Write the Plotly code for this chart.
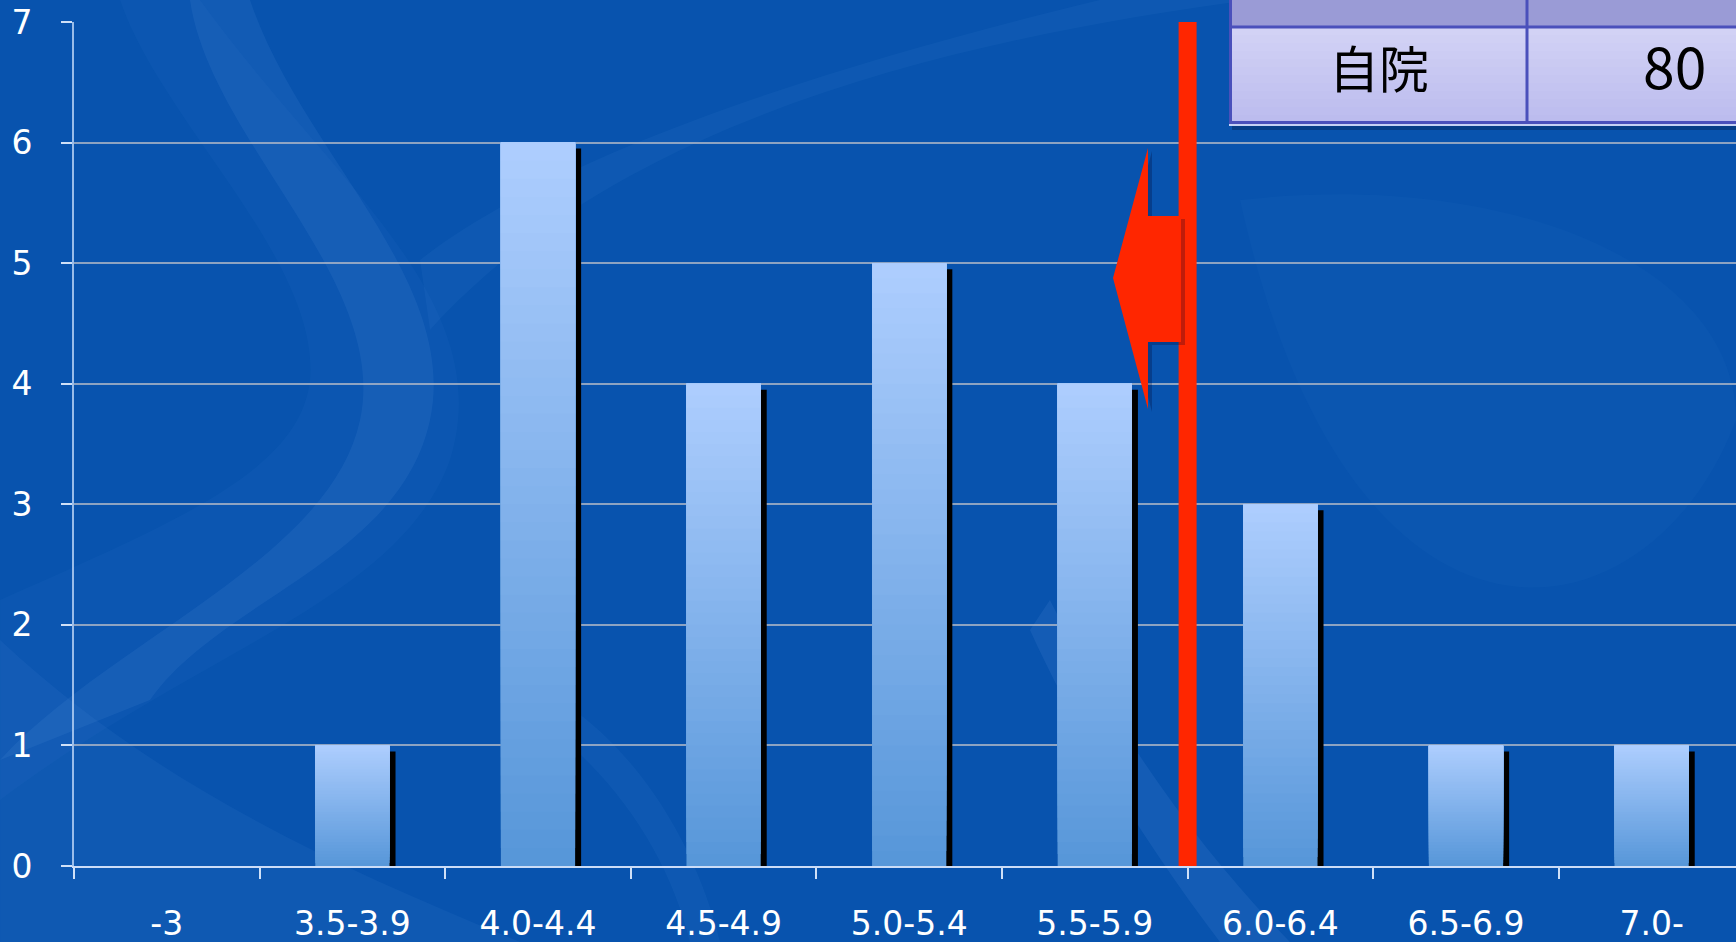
import plotly.graph_objects as go
import numpy as np

# ---------------- data ----------------
categories = ["-3", "3.5-3.9", "4.0-4.4", "4.5-4.9", "5.0-5.4", "5.5-5.9", "6.0-6.4", "6.5-6.9", "7.0-"]
counts = [0, 1, 6, 4, 5, 4, 3, 1, 1]
y_ticks = [0, 1, 2, 3, 4, 5, 6, 7]
marker_x = 5.5          # red threshold line (boundary between 5.5-5.9 and 6.0-6.4)
table_label = "自院"
table_value = "80"

# ---------------- layout geometry ----------------
W, H = 1736, 942
ML, MR, MT, MB = 74, 0, 22, 76
PW, PH = W - ML - MR, H - MT - MB
YMAX = 7
CAT_PX = 185.6
XMAX = -0.5 + PW / CAT_PX

def px(x):  # pixel -> paper x
    return (x - ML) / PW

def py(y):  # pixel -> paper y
    return (H - MB - y) / PH

vals = np.array(counts, dtype=float)
fig = go.Figure()

# shadow bars (black, offset right/down)
shadow_dx = 6 / CAT_PX
shadow_dy = 6 / (PH / YMAX)
fig.add_trace(go.Bar(
    x=categories, y=np.where(vals > 0, vals - shadow_dy, 0), width=0.4,
    offset=-0.2 + shadow_dx, marker=dict(color="black", line=dict(width=0)),
    hoverinfo="skip", showlegend=False))

# gradient bars built from stacked layers
N = 40
top = np.array([0xAE, 0xCE, 0xFE])
bot = np.array([0x56, 0x96, 0xD9])
for k in range(N):
    t = (k + 0.5) / N
    c = bot + (top - bot) * t
    col = "rgb(%d,%d,%d)" % tuple(c.round().astype(int))
    fig.add_trace(go.Bar(
        x=categories, y=vals * (N - k) / N, base=vals * k / N, width=0.4, offset=-0.2,
        marker=dict(color=col, line=dict(width=0)),
        hoverinfo="skip", showlegend=False))

shapes = []

def build_path(cmds):
    out = []
    for cmd in cmds:
        op, pts = cmd[0], cmd[1:]
        out.append(op + " " + " ".join("%.4f,%.4f" % (px(a), py(b)) for a, b in pts))
    return " ".join(out) + " Z"

swirls = [
    # left vertical swirl band
    ([("M", (250, 0)), ("C", (300, 150), (460, 280), (430, 420)), ("C", (400, 560), (220, 600), (150, 700)),
      ("L", (0, 760)), ("C", (110, 640), (330, 560), (360, 420)), ("C", (390, 280), (210, 140), (190, 0))], 0.08),
    # wide soft glow around the swirl
    ([("M", (200, 0)), ("C", (330, 180), (500, 300), (450, 460)), ("C", (400, 600), (200, 650), (0, 800)),
      ("L", (0, 600)), ("C", (180, 520), (300, 470), (310, 380)), ("C", (320, 260), (160, 120), (120, 0))], 0.04),
    # big arc across top center
    ([("M", (430, 330)), ("C", (620, 120), (950, 40), (1250, 0)), ("L", (1100, 0)),
      ("C", (850, 60), (560, 150), (420, 260))], 0.05),
    # right lighter area
    ([("M", (1240, 200)), ("C", (1500, 170), (1736, 260), (1736, 420)), ("C", (1650, 650), (1350, 700), (1240, 200))], 0.03),
    # lower diagonal band
    ([("M", (1050, 600)), ("C", (1120, 740), (1200, 850), (1290, 942)), ("L", (1220, 942)),
      ("C", (1150, 850), (1080, 740), (1030, 630))], 0.09),
    # bottom left region
    ([("M", (0, 640)), ("C", (150, 780), (320, 860), (520, 942)), ("L", (0, 942))], 0.06),
    # faint arc in center bottom
    ([("M", (560, 700)), ("C", (650, 760), (700, 860), (720, 942)), ("L", (690, 942)),
      ("C", (670, 860), (620, 780), (540, 720))], 0.05),
]
for cmds, op in swirls:
    shapes.append(dict(type="path", xref="paper", yref="paper", path=build_path(cmds),
                       fillcolor="rgba(140,190,255,%.3f)" % op, line=dict(width=0), layer="below"))

# red threshold line
shapes.append(dict(type="line", xref="x", yref="y", x0=marker_x, x1=marker_x, y0=-0.02, y1=YMAX,
                   line=dict(color="#ff2600", width=18), layer="above"))

# red arrow pointing left (data coords)
def dx(p):
    return (p - ML) / CAT_PX - 0.5
def dy(p):
    return (H - MB - p) / (PH / YMAX)
arrow_pts = [(1113, 278), (1148, 148), (1148, 216), (1181, 216), (1181, 342), (1148, 342), (1148, 409)]
shadow_pts = [(a + 4, b + 3) for a, b in arrow_pts]
shapes.append(dict(type="path", xref="x", yref="y",
                   path="M " + " L ".join("%.4f,%.4f" % (dx(a), dy(b)) for a, b in shadow_pts) + " Z",
                   fillcolor="rgba(0,0,40,0.25)", line=dict(width=0), layer="above"))
shapes.append(dict(type="path", xref="x", yref="y",
                   path="M " + " L ".join("%.4f,%.4f" % (dx(a), dy(b)) for a, b in arrow_pts) + " Z",
                   fillcolor="#ff2600", line=dict(width=0), layer="above"))

# table (top right)
TL, TR, TD = 1229, 1745, 1527
shapes.append(dict(type="rect", xref="paper", yref="paper", x0=px(TL + 3), x1=px(TR), y0=py(130), y1=py(124),
                   fillcolor="rgba(0,20,60,0.35)", line=dict(width=0), layer="above"))
shapes.append(dict(type="rect", xref="paper", yref="paper", x0=px(TL), x1=px(TR), y0=py(27), y1=py(-5),
                   fillcolor="#9a9bd6", line=dict(width=0), layer="above"))
nrow = 12
for i in range(nrow):
    t = i / (nrow - 1)
    c = np.array([0xD2, 0xD2, 0xF5]) + (np.array([0xBC, 0xBC, 0xEE]) - np.array([0xD2, 0xD2, 0xF5])) * t
    y0 = 27 + (123 - 27) * i / nrow
    y1 = 27 + (123 - 27) * (i + 1) / nrow + 0.5
    shapes.append(dict(type="rect", xref="paper", yref="paper", x0=px(TL), x1=px(TR), y0=py(y1), y1=py(y0),
                       fillcolor="rgb(%d,%d,%d)" % tuple(c.round().astype(int)), line=dict(width=0), layer="above"))
line_col = "#4a50bb"
for (x0, y0, x1, y1) in [(TL + 1.5, -5, TL + 1.5, 123), (TL, 27, TR, 27), (TL, 122.5, TR, 122.5), (TD, -5, TD, 123)]:
    shapes.append(dict(type="line", xref="paper", yref="paper", x0=px(x0), x1=px(x1), y0=py(y0), y1=py(y1),
                       line=dict(color=line_col, width=3), layer="above"))
shapes.append(dict(type="line", xref="paper", yref="paper", x0=px(TL), x1=px(TR), y0=py(125), y1=py(125),
                   line=dict(color="rgba(220,225,255,0.9)", width=2), layer="above"))

annotations = [
    dict(xref="paper", yref="paper", x=px(1379), y=py(66), text=table_label, showarrow=False,
         font=dict(family="Noto Sans CJK JP", size=50, color="black"), xanchor="center", yanchor="middle"),
    dict(xref="paper", yref="paper", x=px(1708), y=py(64), text=table_value, showarrow=False,
         font=dict(family="Noto Sans CJK JP", size=57, color="black"), xanchor="right", yanchor="middle"),
]

fig.update_layout(
    width=W, height=H,
    margin=dict(l=ML, r=MR, t=MT, b=MB, pad=0),
    paper_bgcolor="#0853ae", plot_bgcolor="rgba(0,0,0,0)",
    barmode="overlay", bargap=0.6,
    shapes=shapes, annotations=annotations,
    showlegend=False,
    xaxis=dict(type="category", categoryorder="array", categoryarray=categories,
               range=[-0.5, XMAX], tickson="boundaries", ticks="outside", ticklen=11, tickwidth=1.5,
               tickcolor="rgba(230,240,255,0.9)", showgrid=False, zeroline=False,
               showline=True, linecolor="rgba(225,235,255,0.9)", linewidth=2,
               tickfont=dict(family="DejaVu Sans", size=33, color="white"), ticklabelstandoff=27,
               fixedrange=True),
    yaxis=dict(range=[0, YMAX], tickvals=y_ticks, ticks="outside", ticklen=11, tickwidth=1.5,
               tickcolor="rgba(230,240,255,0.9)", showgrid=True, gridcolor="rgba(185,190,200,0.75)", gridwidth=1.5,
               zeroline=False, showline=True, linecolor="rgba(170,200,240,0.9)", linewidth=2,
               tickfont=dict(family="DejaVu Sans", size=33, color="white"), ticklabelstandoff=22,
               fixedrange=True),
)

fig.write_html("out.html")
